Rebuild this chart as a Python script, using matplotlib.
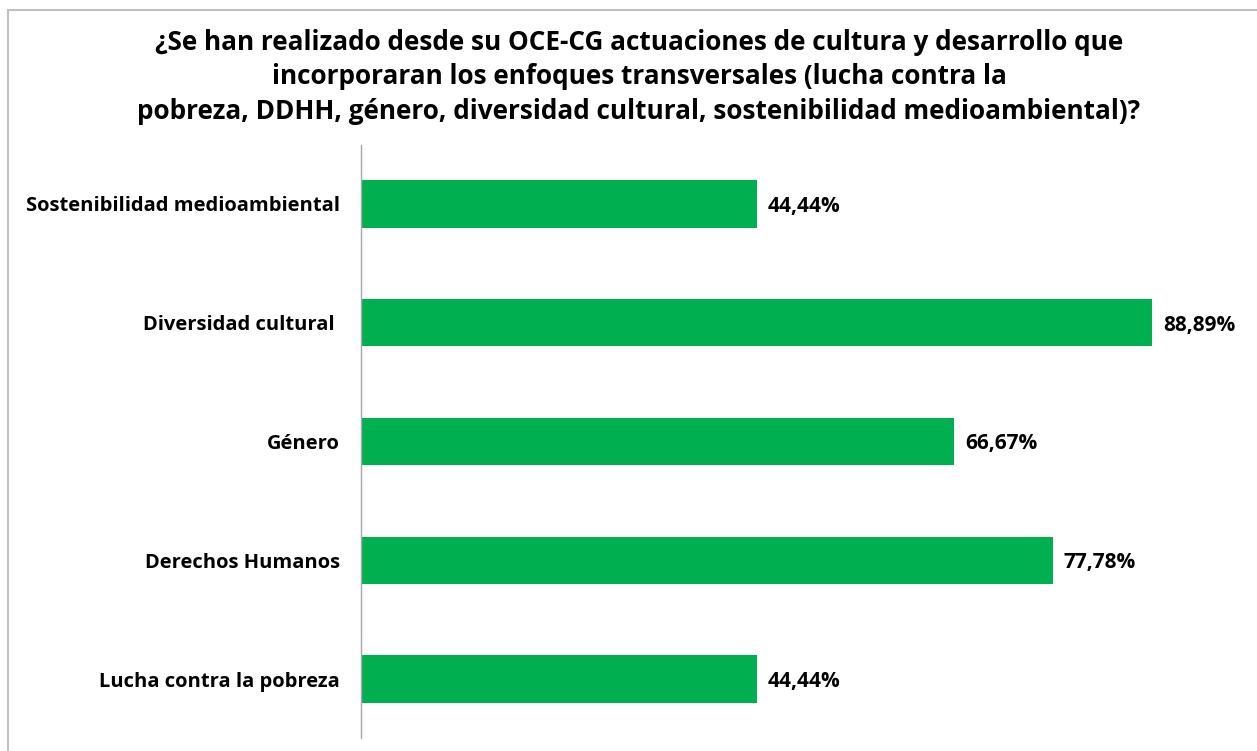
import matplotlib.pyplot as plt
import matplotlib
from matplotlib.patches import Rectangle

matplotlib.rcParams['font.family'] = ['Open Sans', 'DejaVu Sans']
matplotlib.rcParams['font.weight'] = 'bold'

categories = ['Lucha contra la pobreza', 'Derechos Humanos', 'Género',
              'Diversidad cultural ', 'Sostenibilidad medioambiental']
values = [44.44, 77.78, 66.67, 88.89, 44.44]
value_labels = ['44,44%', '77,78%', '66,67%', '88,89%', '44,44%']

title = ('¿Se han realizado desde su OCE-CG actuaciones de cultura y desarrollo que\n'
         'incorporaran los enfoques transversales (lucha contra la\n'
         'pobreza, DDHH, género, diversidad cultural, sostenibilidad medioambiental)?')

W, H = 1257, 751
fig = plt.figure(figsize=(W / 100, H / 100), dpi=100)

# outer chart border (cropped on right and bottom)
fig.patches.append(Rectangle((8 / W, -0.1), 1.2, (H - 10) / H + 0.1, transform=fig.transFigure,
                             fill=False, edgecolor='#BFBFBF', linewidth=1.5))

ax = fig.add_axes([361 / W, 12.6 / H, 890 / W, 593.8 / H])
ypos = range(len(categories))
ax.barh(ypos, values, height=0.40, color='#00B050')
ax.set_xlim(0, 100)
ax.set_ylim(-0.5, 4.5)

for y, v, lab in zip(ypos, values, value_labels):
    ax.text(v + 1.2, y, lab, va='center_baseline', ha='left', fontsize=15, fontweight='bold')

ax.set_yticks(list(ypos))
ax.set_yticklabels(categories, fontsize=14.5, fontweight='bold')
ax.tick_params(axis='y', length=0, pad=15)
ax.set_xticks([])
for s in ['top', 'right', 'bottom']:
    ax.spines[s].set_visible(False)
ax.spines['left'].set_color('#A6A6A6')
ax.spines['left'].set_linewidth(1)

fig.text(639 / W, 1 - 77 / H, title, ha='center', va='center', fontsize=18.8,
         fontweight='bold', linespacing=1.38)

plt.savefig('out.png', dpi=100)
